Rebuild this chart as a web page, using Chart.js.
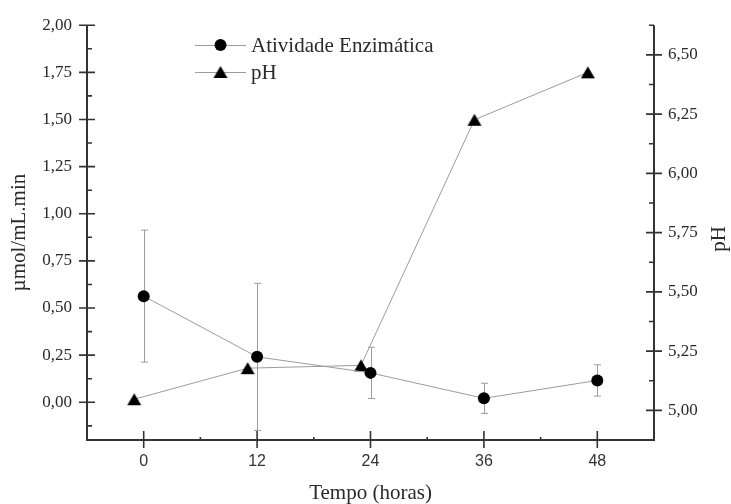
<!DOCTYPE html>
<html>
<head>
<meta charset="utf-8">
<script src="https://cdn.jsdelivr.net/npm/chart.js@4/dist/chart.umd.min.js"></script>
<style>
  html, body { margin: 0; padding: 0; background: #fff; }
  canvas { display: block; }
</style>
</head>
<body>
<canvas id="c" width="731" height="504"></canvas>
<script>
// ---- data ----
const hours = [0, 12, 24, 36, 48];
const activity = [0.563, 0.241, 0.156, 0.021, 0.116];
const activityErr = [0.35, 0.39, 0.136, 0.08, 0.083];
const phHours = [-1, 11, 23, 35, 47];
const phValues = [5.047, 5.178, 5.19, 6.226, 6.426];

const xTicks = [0, 12, 24, 36, 48];
const xMinorTicks = [6, 18, 30, 42];
const activityTicks = [0, 0.25, 0.5, 0.75, 1.0, 1.25, 1.5, 1.75, 2.0];
const activityMinorTicks = [-0.125, 0.125, 0.375, 0.625, 0.875, 1.125, 1.375, 1.625, 1.875];
const phTicks = [5.0, 5.25, 5.5, 5.75, 6.0, 6.25, 6.5];
const phMinorTicks = [5.125, 5.375, 5.625, 5.875, 6.125, 6.375, 6.625];

const labelActivity = 'Atividade Enzimática';
const labelPH = 'pH';
const xTitle = 'Tempo (horas)';
const yTitle = 'µmol/mL.min';
const y1Title = 'pH';

// ---- styling ----
const AXIS = '#333333';
const LINE = '#9c9c9c';
const TXT = '#2a2a2a';
const SERIF = '"Liberation Serif", "Times New Roman", serif';
const SANS = '"Liberation Sans", Arial, sans-serif';

function makeTriangle(w, h) {
  const c = document.createElement('canvas');
  c.width = w + 2; c.height = h + 2;
  const g = c.getContext('2d');
  g.fillStyle = '#000';
  g.beginPath();
  g.moveTo(1, h + 1);
  g.lineTo(w + 1, h + 1);
  g.lineTo(w / 2 + 1, 1);
  g.closePath();
  g.fill();
  return c;
}
const tri = makeTriangle(14, 12);

function fmt(v) { return v.toFixed(2).replace('.', ','); }

const decor = {
  id: 'decor',
  beforeDatasetsDraw(chart) {
    const ctx = chart.ctx;
    const xs = chart.scales.x, ys = chart.scales.y;
    ctx.save();
    ctx.strokeStyle = LINE;
    ctx.lineWidth = 1;
    hours.forEach((h, i) => {
      const px = Math.round(xs.getPixelForValue(h)) + 0.5;
      const top = ys.getPixelForValue(activity[i] + activityErr[i]);
      const bot = ys.getPixelForValue(activity[i] - activityErr[i]);
      ctx.beginPath();
      ctx.moveTo(px, top); ctx.lineTo(px, bot);
      ctx.moveTo(px - 3.5, top); ctx.lineTo(px + 3.5, top);
      ctx.moveTo(px - 3.5, bot); ctx.lineTo(px + 3.5, bot);
      ctx.stroke();
    });
    ctx.restore();
  },
  afterDraw(chart) {
    const ctx = chart.ctx;
    const a = chart.chartArea;
    const xs = chart.scales.x, ys = chart.scales.y, ys1 = chart.scales.y1;
    ctx.save();
    // frame (left, bottom, right)
    ctx.strokeStyle = AXIS;
    ctx.lineWidth = 2;
    ctx.beginPath();
    ctx.moveTo(a.left, a.top); ctx.lineTo(a.left, a.bottom);
    ctx.lineTo(a.right, a.bottom); ctx.lineTo(a.right, a.top);
    ctx.stroke();
    // ticks
    ctx.lineWidth = 1.6;
    ctx.beginPath();
    xTicks.forEach(v => { const p = xs.getPixelForValue(v); ctx.moveTo(p, a.bottom - 9); ctx.lineTo(p, a.bottom + 8); });
    xMinorTicks.forEach(v => { const p = xs.getPixelForValue(v); ctx.moveTo(p, a.bottom - 3); ctx.lineTo(p, a.bottom); });
    activityTicks.forEach(v => { const p = ys.getPixelForValue(v); ctx.moveTo(a.left - 8, p); ctx.lineTo(a.left + 8, p); });
    activityMinorTicks.forEach(v => { const p = ys.getPixelForValue(v); ctx.moveTo(a.left, p); ctx.lineTo(a.left + 5, p); });
    phTicks.forEach(v => { const p = ys1.getPixelForValue(v); ctx.moveTo(a.right - 8, p); ctx.lineTo(a.right + 8, p); });
    phMinorTicks.forEach(v => { const p = ys1.getPixelForValue(v); ctx.moveTo(a.right - 5, p); ctx.lineTo(a.right, p); });
    ctx.stroke();

    // axis titles
    ctx.fillStyle = TXT;
    ctx.font = '21px ' + SERIF;
    ctx.textAlign = 'center';
    ctx.textBaseline = 'middle';
    ctx.fillText(xTitle, (a.left + a.right) / 2 + 0, 493);
    ctx.save();
    ctx.translate(19, (a.top + a.bottom) / 2);
    ctx.rotate(-Math.PI / 2);
    ctx.fillText(yTitle, 0, 0);
    ctx.restore();
    ctx.save();
    ctx.translate(719, 239);
    ctx.rotate(-Math.PI / 2);
    ctx.fillText(y1Title, 0, 0);
    ctx.restore();

    // legend
    const rows = [
      { y: 45, label: labelActivity, marker: 'circle' },
      { y: 72, label: labelPH, marker: 'tri' }
    ];
    rows.forEach(r => {
      ctx.strokeStyle = LINE;
      ctx.lineWidth = 1;
      ctx.beginPath();
      ctx.moveTo(195, r.y + 0.5); ctx.lineTo(246, r.y + 0.5);
      ctx.stroke();
      if (r.marker === 'circle') {
        ctx.fillStyle = '#000';
        ctx.beginPath(); ctx.arc(220.5, r.y, 6, 0, Math.PI * 2); ctx.fill();
      } else {
        ctx.drawImage(tri, 220.5 - tri.width / 2, r.y - tri.height / 2);
      }
      ctx.fillStyle = TXT;
      ctx.font = '21px ' + SERIF;
      ctx.textAlign = 'left';
      ctx.textBaseline = 'alphabetic';
      ctx.fillText(r.label, 251, r.y + 7);
    });
    ctx.restore();
  }
};

new Chart(document.getElementById('c'), {
  type: 'scatter',
  data: {
    datasets: [
      {
        label: labelActivity,
        data: hours.map((h, i) => ({ x: h, y: activity[i] })),
        yAxisID: 'y',
        showLine: true,
        borderColor: LINE,
        borderWidth: 1,
        pointStyle: 'circle',
        pointRadius: 6,
        pointBackgroundColor: '#000',
        pointBorderColor: '#000',
        pointBorderWidth: 0
      },
      {
        label: labelPH,
        data: phHours.map((h, i) => ({ x: h, y: phValues[i] })),
        yAxisID: 'y1',
        showLine: true,
        borderColor: LINE,
        borderWidth: 1,
        pointStyle: tri,
        pointRadius: 7,
        pointBackgroundColor: '#000',
        pointBorderColor: '#000'
      }
    ]
  },
  options: {
    responsive: false,
    animation: false,
    devicePixelRatio: 1,
    layout: { padding: { top: 18, left: 0, right: 0, bottom: 0 } },
    plugins: { legend: { display: false }, tooltip: { enabled: false } },
    scales: {
      x: {
        type: 'linear', position: 'bottom', min: -6, max: 54,
        afterBuildTicks: s => { s.ticks = xTicks.map(v => ({ value: v })); },
        afterFit: s => { s.height = 64; },
        grid: { display: false, drawTicks: false },
        border: { display: false },
        ticks: { padding: 12, color: '#333', font: { family: SANS, size: 16 }, maxRotation: 0, callback: v => String(v) }
      },
      y: {
        type: 'linear', position: 'left', min: -0.2, max: 2.0,
        afterBuildTicks: s => { s.ticks = activityTicks.map(v => ({ value: v })); },
        afterFit: s => { s.width = 87; },
        grid: { display: false, drawTicks: false },
        border: { display: false },
        ticks: { padding: 15, color: TXT, font: { family: SERIF, size: 17 }, callback: v => fmt(v) }
      },
      y1: {
        type: 'linear', position: 'right', min: 4.875, max: 6.625,
        afterBuildTicks: s => { s.ticks = phTicks.map(v => ({ value: v })); },
        afterFit: s => { s.width = 77; },
        grid: { display: false, drawTicks: false },
        border: { display: false },
        ticks: { padding: 14, color: TXT, font: { family: SERIF, size: 17 }, callback: v => fmt(v) }
      }
    }
  },
  plugins: [decor]
});
</script>
</body>
</html>
